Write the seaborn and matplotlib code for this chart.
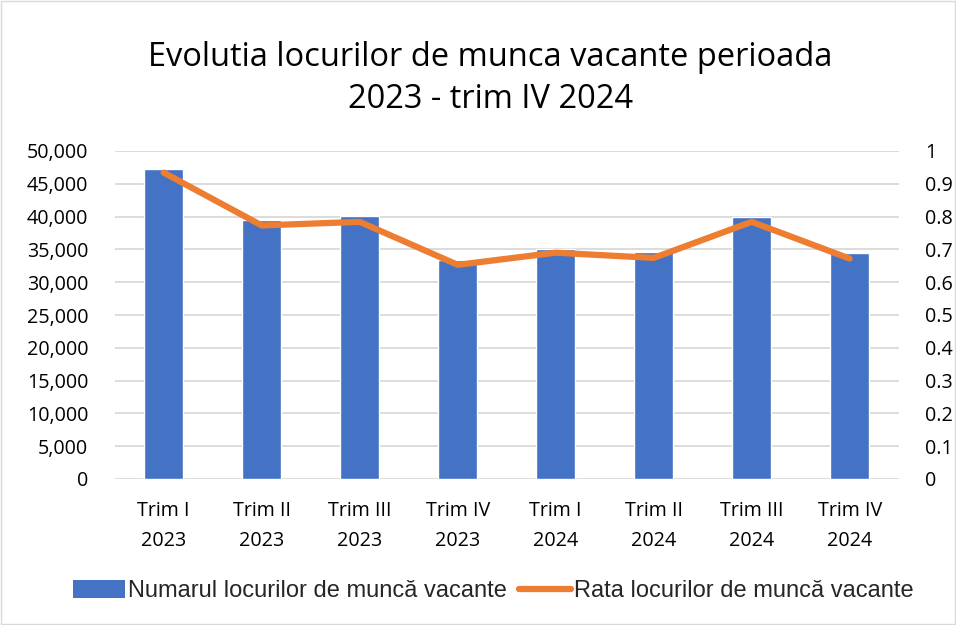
import numpy as np
import pandas as pd
import matplotlib
matplotlib.use('Agg')
import matplotlib.pyplot as plt
import seaborn as sns
from matplotlib.patches import Patch
from matplotlib.lines import Line2D

# Data
categories = ['Trim I\n2023', 'Trim II\n2023', 'Trim III\n2023', 'Trim IV\n2023',
              'Trim I\n2024', 'Trim II\n2024', 'Trim III\n2024', 'Trim IV\n2024']
numar_locuri = [47200, 39500, 40100, 33400, 35100, 34600, 40000, 34400]
rata_locuri = [0.934, 0.773, 0.784, 0.653, 0.690, 0.674, 0.784, 0.672]

df = pd.DataFrame({'Trimestru': categories, 'Numar': numar_locuri, 'Rata': rata_locuri})

sns.set_theme(style='white')
plt.rcParams['font.family'] = ['Open Sans', 'DejaVu Sans']

blue = '#4472C4'
orange = '#ED7D31'

fig = plt.figure(figsize=(9.56, 6.25), dpi=100)
ax = fig.add_axes([0.120, 0.2336, 0.820, 0.5248])

sns.barplot(data=df, x='Trimestru', y='Numar', color=blue, width=0.4,
            saturation=1, ax=ax, zorder=2)
ax.set_ylim(0, 50000)
ax.set_yticks(np.arange(0, 50001, 5000))
ax.set_yticklabels([f'{v:,}' for v in range(0, 50001, 5000)])
ax.yaxis.grid(True, color='#D9D9D9', linewidth=1.3, zorder=0)
ax.set_axisbelow(True)
ax.set_xlabel('')
ax.set_ylabel('')
for s in ax.spines.values():
    s.set_visible(False)
ax.tick_params(axis='y', length=0, pad=19, labelsize=14.2, labelcolor='#000000')
ax.tick_params(axis='x', length=0, pad=16, labelsize=14.2, labelcolor='#000000')
for lbl in ax.get_xticklabels():
    lbl.set_linespacing(1.65)

ax2 = ax.twinx()
sns.lineplot(x=np.arange(len(categories)), y=rata_locuri, color=orange,
             linewidth=4.5, solid_capstyle='round', ax=ax2, zorder=3)
ax2.set_ylim(0, 1)
ax2.set_yticks(np.arange(0, 1.01, 0.1))
ax2.set_yticklabels(['0', '0.1', '0.2', '0.3', '0.4', '0.5', '0.6', '0.7', '0.8', '0.9', '1'])
ax2.tick_params(axis='y', length=0, pad=19, labelsize=14.2, labelcolor='#000000')
for s in ax2.spines.values():
    s.set_visible(False)
ax.set_xlim(-0.5, len(categories) - 0.5)

fig.text(0.513, 0.874, 'Evolutia locurilor de munca vacante perioada\n2023 - trim IV 2024',
         ha='center', va='center', fontsize=23.5, linespacing=1.38, color='#000000')

handles = [Patch(facecolor=blue, edgecolor='none'),
           Line2D([0], [0], color=orange, linewidth=4.5, solid_capstyle='round')]
labels = ['Numarul locurilor de muncă vacante', 'Rata locurilor de muncă vacante']
fig.legend(handles, labels, loc='center', bbox_to_anchor=(0.516, 0.054), ncol=2,
           frameon=False, handlelength=2.2, handleheight=0.8, handletextpad=0.15,
           columnspacing=0.5, prop={'family': 'Liberation Sans', 'size': 17})

fig.patches.append(plt.Rectangle((0.001, 0.001), 0.998, 0.998, transform=fig.transFigure,
                                 fill=False, edgecolor='#D9D9D9', linewidth=1))

fig.savefig('out.png', dpi=100)
